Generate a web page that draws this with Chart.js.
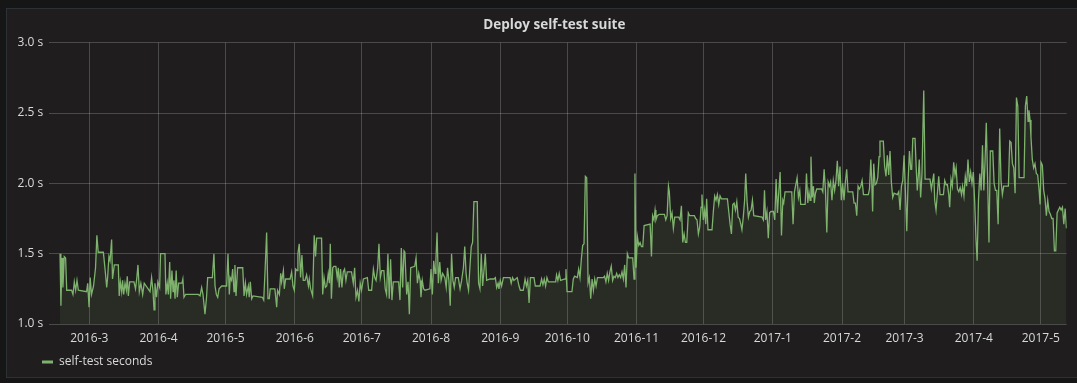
<!DOCTYPE html>
<html><head><meta charset="utf-8">
<script src="https://cdn.jsdelivr.net/npm/chart.js@4/dist/chart.umd.min.js"></script>
<style>
html,body{margin:0;padding:0;background:#161616;width:1077px;height:383px;overflow:hidden}
#panel{position:absolute;left:6px;top:8px;width:1090px;height:370px;background:#1f1d1e;border:1px solid #2c3235;box-sizing:border-box}
#wrap{position:absolute;left:0;top:0;width:1077px;height:383px}
</style></head><body>
<div id="panel"></div>
<div id="wrap"><canvas id="c" width="1077" height="383"></canvas></div>
<script>
const chartTitle = 'Deploy self-test suite';
const seriesName = 'self-test seconds';
// x values are days since 2016-03-01
const monthStarts = [0,31,61,92,122,153,184,214,245,275,306,337,365,396,426];
const monthLabels = ['2016-3','2016-4','2016-5','2016-6','2016-7','2016-8','2016-9','2016-10','2016-11','2016-12','2017-1','2017-2','2017-3','2017-4','2017-5'];
const xRange = [-17.9, 437.6];
const yTicks = [1.0, 1.5, 2.0, 2.5, 3.0];

const days = [
-13.1,-12.7,-12.2,-11.8,-11.2,-10.6,-10.1,-7.9,-7.3,-6.7,
-6.1,-5.5,-4.9,-1.2,-0.7,-0.1,0.4,1.0,1.9,2.8,
3.4,4.0,6.3,7.0,7.8,8.2,8.8,9.3,10.0,10.4,
11.2,13.0,13.4,13.9,14.5,14.9,15.4,16.0,16.6,17.0,
17.5,18.1,20.0,20.7,21.3,21.8,22.4,23.1,23.9,24.6,
27.2,27.9,28.5,29.0,29.4,30.1,30.7,31.5,31.9,33.9,
34.3,34.9,35.4,36.0,36.4,37.0,37.5,37.9,38.4,38.9,
39.4,40.0,41.5,41.9,42.4,43.1,48.8,49.6,50.3,50.9,
51.8,52.5,53.0,55.1,55.8,56.3,56.9,57.5,58.1,59.3,
61.5,62.1,62.7,63.1,63.7,64.2,64.8,65.2,65.7,66.4,
68.7,69.3,69.9,70.4,71.2,71.6,72.1,72.7,73.3,77.5,
78.1,78.7,79.4,80.0,80.6,81.0,83.1,83.9,84.3,85.1,
85.7,86.1,86.9,87.3,87.9,89.9,90.6,91.2,91.8,92.4,
93.0,93.4,94.0,94.6,95.2,95.8,96.6,97.3,98.1,98.5,
99.1,100.0,100.7,101.3,101.8,104.0,104.5,105.1,105.7,106.3,
107.0,107.5,107.9,108.4,109.0,109.5,110.4,111.0,111.5,111.9,
112.5,113.1,113.7,114.3,114.9,115.5,117.4,118.2,118.8,119.4,
120.1,120.7,121.3,121.9,122.7,124.5,125.1,126.4,127.2,127.8,
128.4,129.1,129.7,130.3,130.9,131.9,132.5,133.1,133.7,134.3,
134.9,135.5,136.1,138.5,139.1,139.7,140.3,140.9,141.3,142.1,
142.7,143.3,143.9,145.7,146.3,146.9,147.5,148.1,148.5,149.1,
149.7,150.3,152.5,153.0,153.6,154.2,154.8,155.2,155.7,156.3,
156.9,157.5,158.2,159.2,159.8,160.4,161.0,161.6,162.2,162.8,
163.4,164.0,165.2,166.0,166.7,167.5,168.1,168.7,169.2,169.8,
170.4,171.0,171.6,172.2,173.7,174.3,174.9,175.5,176.1,176.7,
177.3,177.9,179.4,181.2,181.8,182.4,183.0,183.4,184.0,184.6,
185.4,188.4,188.9,189.5,190.1,191.6,192.4,193.0,194.3,195.1,
195.7,196.3,196.9,197.5,199.1,199.7,200.3,201.8,202.5,203.1,
203.7,204.3,204.9,205.5,208.8,209.2,209.8,210.4,211.0,213.0,
213.4,213.9,216.1,216.7,217.3,218.5,219.1,219.7,220.3,220.9,
221.5,222.1,222.7,223.3,223.9,224.5,225.1,225.7,226.3,226.9,
227.5,230.1,230.7,231.3,231.9,232.5,233.1,233.7,234.3,234.9,
235.5,236.1,236.7,237.3,237.9,238.5,239.1,239.7,240.3,240.9,
241.5,243.3,243.9,244.3,244.8,245.4,246.0,246.6,247.2,247.8,
248.4,251.1,251.7,252.2,252.8,253.3,253.7,254.3,255.2,257.5,
258.1,258.7,259.3,259.7,260.3,260.9,261.5,262.1,262.7,263.9,
264.5,265.1,265.7,266.3,266.9,267.5,268.2,268.8,270.9,271.5,
272.1,272.7,273.3,273.9,274.3,274.9,275.5,276.0,276.4,277.0,
278.8,279.4,280.0,280.6,281.2,281.8,282.4,283.0,285.7,286.3,
286.9,287.5,288.1,288.7,289.3,289.9,290.5,291.1,291.7,292.2,
292.8,293.4,293.9,294.5,295.1,295.7,296.3,296.9,297.5,301.2,
301.8,302.3,302.8,303.4,304.0,304.6,305.2,306.3,306.9,307.5,
308.1,308.7,309.3,309.9,310.5,310.9,311.5,314.5,315.1,315.7,
316.3,316.9,317.5,318.1,318.5,320.5,321.1,321.7,322.2,322.7,
323.1,323.7,324.2,324.6,325.1,325.7,327.9,328.4,329.0,329.6,
330.2,330.8,331.4,331.9,332.5,333.1,333.7,334.3,334.9,335.5,
336.1,336.7,337.3,337.9,338.5,339.1,339.7,341.8,342.4,343.0,
343.6,344.2,344.8,345.4,346.0,346.6,348.8,349.3,349.9,350.3,
350.7,351.2,351.8,352.4,353.0,353.6,354.0,355.5,356.1,356.7,
357.3,357.9,358.5,359.1,359.7,360.3,361.8,362.4,363.0,363.6,
364.2,364.8,365.4,366.0,366.6,367.2,367.8,368.2,368.7,369.7,
370.2,370.7,371.2,371.6,372.2,372.8,373.6,374.2,376.4,377.0,
377.6,378.1,378.5,379.1,379.7,380.3,380.9,382.4,383.0,383.6,
384.2,384.8,385.2,385.8,386.4,387.0,387.6,388.1,388.7,389.3,
389.9,390.5,391.0,391.6,392.2,392.8,393.4,394.0,394.6,395.2,
395.8,396.4,397.0,397.5,398.1,398.7,399.3,399.9,400.5,401.0,
401.6,402.2,402.8,403.4,404.5,405.1,405.7,406.3,406.9,407.6,
408.2,408.8,409.4,411.5,412.1,412.7,413.3,413.9,414.5,415.1,
415.7,416.3,418.5,419.1,419.7,420.3,420.7,421.2,421.6,422.2,
422.8,423.4,424.0,424.6,425.2,425.7,426.1,426.7,427.3,427.9,
428.5,429.1,429.7,430.3,430.9,431.5,432.1,432.7,433.3,433.9,
434.5,435.1,435.7,436.3,436.9,437.5
];

const seconds = [
1.50,1.13,1.47,1.26,1.48,1.47,1.24,1.24,1.21,1.30,
1.24,1.31,1.24,1.23,1.29,1.12,1.33,1.21,1.27,1.40,
1.63,1.51,1.51,1.40,1.26,1.33,1.48,1.45,1.60,1.32,
1.42,1.42,1.20,1.30,1.23,1.31,1.21,1.29,1.24,1.34,
1.20,1.30,1.30,1.25,1.33,1.42,1.23,1.29,1.21,1.29,
1.23,1.33,1.24,1.10,1.29,1.19,1.30,1.26,1.50,1.50,
1.21,1.29,1.21,1.44,1.18,1.38,1.23,1.31,1.18,1.38,
1.19,1.29,1.29,1.32,1.19,1.21,1.21,1.20,1.26,1.21,
1.07,1.19,1.33,1.33,1.50,1.27,1.21,1.19,1.25,1.27,
1.27,1.50,1.21,1.33,1.31,1.39,1.23,1.42,1.20,1.40,
1.40,1.20,1.29,1.21,1.27,1.19,1.30,1.18,1.20,1.19,
1.17,1.38,1.65,1.18,1.18,1.25,1.25,1.12,1.24,1.21,
1.36,1.30,1.38,1.25,1.32,1.32,1.37,1.27,1.24,1.39,
1.38,1.50,1.57,1.33,1.49,1.31,1.31,1.35,1.27,1.32,
1.25,1.20,1.63,1.48,1.61,1.61,1.21,1.33,1.26,1.27,
1.36,1.29,1.57,1.18,1.40,1.41,1.41,1.33,1.40,1.26,
1.39,1.26,1.37,1.39,1.31,1.37,1.37,1.29,1.40,1.19,
1.24,1.16,1.29,1.24,1.32,1.33,1.24,1.24,1.39,1.33,
1.31,1.40,1.57,1.33,1.38,1.38,1.25,1.21,1.50,1.18,
1.46,1.17,1.30,1.30,1.17,1.54,1.26,1.52,1.51,1.21,
1.30,1.07,1.40,1.41,1.47,1.29,1.36,1.31,1.19,1.31,
1.25,1.24,1.25,1.39,1.21,1.45,1.36,1.46,1.65,1.29,
1.44,1.31,1.36,1.33,1.26,1.40,1.31,1.13,1.50,1.31,
1.26,1.33,1.33,1.25,1.31,1.40,1.55,1.36,1.29,1.24,
1.40,1.55,1.58,1.87,1.87,1.29,1.25,1.50,1.27,1.38,
1.50,1.31,1.32,1.32,1.33,1.26,1.29,1.25,1.31,1.27,
1.33,1.33,1.29,1.33,1.31,1.33,1.27,1.24,1.24,1.32,
1.27,1.31,1.15,1.33,1.33,1.27,1.27,1.27,1.32,1.28,
1.32,1.27,1.33,1.30,1.30,1.35,1.31,1.36,1.31,1.32,
1.39,1.23,1.23,1.32,1.34,1.33,1.39,1.33,1.46,1.56,
1.57,2.05,2.04,1.29,1.33,1.18,1.32,1.24,1.32,1.27,
1.33,1.33,1.34,1.30,1.36,1.31,1.37,1.41,1.31,1.34,
1.33,1.36,1.33,1.35,1.33,1.37,1.32,1.42,1.26,1.50,
1.47,1.47,1.32,2.07,1.40,1.62,1.56,1.58,1.55,1.55,
1.70,1.71,1.48,1.77,1.74,1.81,1.74,1.77,1.78,1.78,
1.74,1.77,1.98,1.94,1.75,1.79,1.68,1.76,1.76,1.76,
1.74,1.84,1.58,1.64,1.58,1.58,1.79,1.77,1.77,1.75,
1.74,1.64,1.69,1.83,1.92,1.74,1.81,1.71,1.89,1.67,
1.67,1.80,1.91,1.88,1.92,1.85,1.91,1.89,1.89,1.80,
1.71,1.64,1.85,1.86,1.81,1.87,1.76,1.75,1.71,1.67,
1.76,1.88,2.07,1.87,1.76,1.80,1.81,1.88,1.77,1.76,
1.74,1.95,1.74,1.80,1.61,1.79,1.80,1.80,1.74,2.03,
1.79,1.94,2.08,1.63,1.88,1.86,1.94,1.94,1.71,1.94,
1.99,2.04,1.90,1.95,1.85,1.85,2.07,1.86,1.94,1.88,
2.19,1.90,1.98,1.86,1.93,1.96,1.96,1.94,2.10,1.95,
1.65,2.01,1.98,2.01,1.88,2.02,1.95,2.02,2.16,1.98,
2.12,1.88,2.00,1.88,2.01,2.10,1.94,1.94,1.86,1.86,
1.77,1.98,1.96,1.98,2.02,1.92,1.92,1.96,2.17,2.02,
1.80,2.14,1.99,2.00,2.04,2.19,2.30,2.30,2.12,2.05,
2.20,2.06,2.23,2.01,1.90,1.93,1.92,1.94,1.81,1.98,
2.02,2.20,1.94,1.66,2.02,2.23,2.10,2.10,2.32,2.32,
2.12,1.95,2.06,2.17,1.90,2.07,2.66,2.03,2.03,1.96,
2.02,2.07,1.88,1.81,1.93,2.05,1.92,1.92,2.02,1.99,
1.99,1.92,1.83,2.03,1.98,2.15,2.06,2.11,1.96,1.94,
1.97,1.92,1.98,1.91,2.05,1.98,2.17,2.01,2.08,2.00,
2.08,1.87,1.60,1.45,1.88,2.07,1.95,2.27,1.95,2.14,
2.43,2.02,1.58,2.23,2.23,2.00,1.95,1.95,1.71,2.39,
2.02,1.92,1.98,1.98,2.30,2.29,2.14,2.11,1.93,2.61,
2.55,2.04,2.04,2.55,2.62,2.44,2.52,2.45,2.33,2.17,
2.11,2.14,2.07,2.06,1.96,1.85,2.15,2.13,1.95,1.89,
1.77,1.88,1.80,1.78,1.75,1.75,1.52,1.52,1.79,1.81,
1.83,1.81,1.83,1.71,1.82,1.68
];

const lineColor = '#7eb26d';
const textColor = '#d8d9da';
const gridColor = 'rgba(255,255,255,0.2)';

Chart.defaults.font.family = '"Open Sans", "Noto Sans", "DejaVu Sans", sans-serif';

const points = days.map((d, i) => ({ x: d, y: seconds[i] }));

// Grafana-like placement: legend indented to 42px, title centred on the panel
const placeBoxes = {
  id: 'placeBoxes',
  afterLayout(chart) {
    const lg = chart.legend;
    if (lg) { lg.left += 22; lg.right += 22; }
    const tb = chart.titleBlock;
    if (tb) { tb.left += 16; tb.right += 16; }
  }
};

new Chart(document.getElementById('c'), {
  type: 'line',
  data: {
    datasets: [{
      label: seriesName,
      data: points,
      borderColor: lineColor,
      backgroundColor: 'rgba(126,178,109,0.1)',
      borderWidth: 1.3,
      pointRadius: 0,
      tension: 0,
      fill: 'start'
    }]
  },
  plugins: [placeBoxes],
  options: {
    responsive: false,
    animation: false,
    devicePixelRatio: 1,
    layout: { padding: { left: 10, right: 10.3, top: 0, bottom: 5 } },
    plugins: {
      title: {
        display: true, text: chartTitle, color: textColor,
        font: { size: 13.5, weight: 'bold' },
        padding: { top: 17, bottom: 9.5 }
      },
      legend: {
        position: 'bottom', align: 'start',
        labels: {
          boxWidth: 11, boxHeight: 3, color: textColor, font: { size: 12 }, padding: 10,
          generateLabels: (chart) => {
            const items = Chart.defaults.plugins.legend.labels.generateLabels(chart);
            items.forEach(it => { it.fillStyle = lineColor; it.strokeStyle = lineColor; it.lineWidth = 0; });
            return items;
          }
        }
      },
      tooltip: { enabled: false }
    },
    scales: {
      x: {
        type: 'linear', min: xRange[0], max: xRange[1],
        afterBuildTicks: (s) => { s.ticks = monthStarts.map(v => ({ value: v })); },
        afterFit: (s) => { s.height = 22; },
        ticks: {
          autoSkip: false, maxRotation: 0, color: textColor, font: { size: 12 }, padding: 7,
          callback: (v) => monthLabels[monthStarts.indexOf(v)]
        },
        grid: { color: gridColor, drawTicks: false },
        border: { display: false }
      },
      y: {
        min: 1, max: 3,
        afterBuildTicks: (s) => { s.ticks = yTicks.map(v => ({ value: v })); },
        afterFit: (s) => { s.width = 39.3; },
        ticks: { color: textColor, font: { size: 12 }, padding: 6, callback: (v) => v.toFixed(1) + ' s' },
        grid: { color: gridColor, drawTicks: false },
        border: { display: false }
      }
    }
  }
});
</script>
</body></html>
